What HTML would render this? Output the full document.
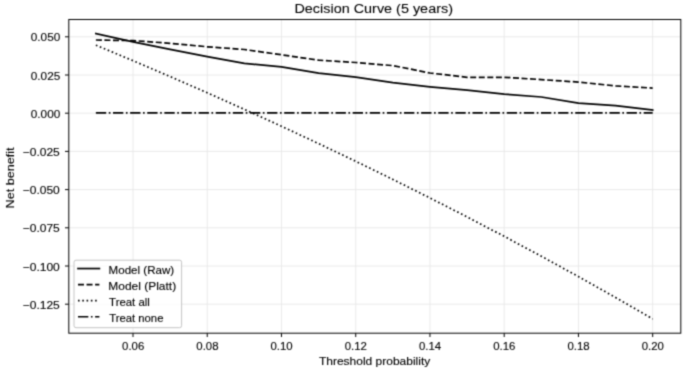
<!DOCTYPE html>
<html><head><meta charset="utf-8"><style>
html,body{margin:0;padding:0;background:#fff;overflow:hidden;}
svg{display:block;}
text{font-family:"Liberation Sans",sans-serif;fill:#000;stroke:#000;stroke-width:0.12px;}
</style></head><body>
<svg width="685" height="370" viewBox="0 0 685 370">
<defs><filter id="bl" x="0" y="0" width="685" height="370" filterUnits="userSpaceOnUse" color-interpolation-filters="sRGB"><feConvolveMatrix order="3" kernelMatrix="0.0324 0.1152 0.0324 0.1152 0.4096 0.1152 0.0324 0.1152 0.0324" divisor="1" edgeMode="duplicate"/></filter></defs>
<g filter="url(#bl)">
<rect width="685" height="370" fill="#fff"/>
<g stroke="#e7e7e7" stroke-width="0.87" fill="none"><line x1="133.00" y1="19.5" x2="133.00" y2="333.2"/><line x1="207.24" y1="19.5" x2="207.24" y2="333.2"/><line x1="281.48" y1="19.5" x2="281.48" y2="333.2"/><line x1="355.72" y1="19.5" x2="355.72" y2="333.2"/><line x1="429.96" y1="19.5" x2="429.96" y2="333.2"/><line x1="504.20" y1="19.5" x2="504.20" y2="333.2"/><line x1="578.44" y1="19.5" x2="578.44" y2="333.2"/><line x1="652.68" y1="19.5" x2="652.68" y2="333.2"/><line x1="68.8" y1="36.80" x2="680.8" y2="36.80"/><line x1="68.8" y1="75.00" x2="680.8" y2="75.00"/><line x1="68.8" y1="113.20" x2="680.8" y2="113.20"/><line x1="68.8" y1="151.40" x2="680.8" y2="151.40"/><line x1="68.8" y1="189.60" x2="680.8" y2="189.60"/><line x1="68.8" y1="227.80" x2="680.8" y2="227.80"/><line x1="68.8" y1="266.00" x2="680.8" y2="266.00"/><line x1="68.8" y1="304.20" x2="680.8" y2="304.20"/></g>
<g fill="none" stroke="#000" stroke-width="1.7" stroke-linejoin="round">
<polyline points="95.88,33.60 133.00,41.80 170.12,49.40 207.24,56.70 244.36,63.40 281.48,66.90 318.60,73.20 355.72,77.20 392.84,82.70 429.96,86.80 467.08,90.10 504.20,94.20 541.32,97.00 578.44,103.10 615.56,105.70 652.68,110.10" stroke-linecap="square"/>
<polyline points="95.88,40.00 133.00,40.60 170.12,43.30 207.24,46.80 244.36,49.50 281.48,54.80 318.60,60.20 355.72,62.50 392.84,65.60 429.96,73.00 467.08,77.30 504.20,77.30 541.32,79.60 578.44,82.10 615.56,85.90 652.68,88.10" stroke-dasharray="5.976 2.584"/>
<polyline points="95.88,45.16 133.00,60.70 170.12,76.56 207.24,92.77 244.36,109.34 281.48,126.27 318.60,143.59 355.72,161.30 392.84,179.41 429.96,197.95 467.08,216.92 504.20,236.35 541.32,256.24 578.44,276.62 615.56,297.50 652.68,318.91" stroke-dasharray="1.615 2.665"/>
<line x1="95.88" y1="112.85" x2="652.68" y2="112.85" stroke-dasharray="10.336 2.584 1.615 2.584"/>
</g>
<g stroke="#000" stroke-width="1.0" fill="none">
<rect x="68.8" y="19.5" width="612.00" height="313.70"/>
<line x1="133.00" y1="333.2" x2="133.00" y2="337.00"/><line x1="207.24" y1="333.2" x2="207.24" y2="337.00"/><line x1="281.48" y1="333.2" x2="281.48" y2="337.00"/><line x1="355.72" y1="333.2" x2="355.72" y2="337.00"/><line x1="429.96" y1="333.2" x2="429.96" y2="337.00"/><line x1="504.20" y1="333.2" x2="504.20" y2="337.00"/><line x1="578.44" y1="333.2" x2="578.44" y2="337.00"/><line x1="652.68" y1="333.2" x2="652.68" y2="337.00"/><line x1="65.00" y1="36.80" x2="68.8" y2="36.80"/><line x1="65.00" y1="75.00" x2="68.8" y2="75.00"/><line x1="65.00" y1="113.20" x2="68.8" y2="113.20"/><line x1="65.00" y1="151.40" x2="68.8" y2="151.40"/><line x1="65.00" y1="189.60" x2="68.8" y2="189.60"/><line x1="65.00" y1="227.80" x2="68.8" y2="227.80"/><line x1="65.00" y1="266.00" x2="68.8" y2="266.00"/><line x1="65.00" y1="304.20" x2="68.8" y2="304.20"/>
</g>
<g>
<rect x="74.0" y="260.2" width="107.6" height="67.5" rx="2.0" fill="#fff" fill-opacity="0.8" stroke="#c4c4c4" stroke-width="1.0"/>
<g fill="none" stroke="#000" stroke-width="1.7">
<line x1="78.0" y1="268.55" x2="99.4" y2="268.55" stroke-linecap="square"/>
<line x1="78.0" y1="284.55" x2="99.4" y2="284.55" stroke-dasharray="5.976 2.584"/>
<line x1="78.0" y1="300.6" x2="99.4" y2="300.6" stroke-dasharray="1.615 2.665"/>
<line x1="78.0" y1="316.75" x2="99.4" y2="316.75" stroke-dasharray="10.336 2.584 1.615 2.584"/>
</g>
</g>
<text x="373.70" y="13.10" font-size="12.5" text-anchor="middle" style="stroke-width:0.08px" textLength="158.49" lengthAdjust="spacingAndGlyphs">Decision Curve (5 years)</text>
<text x="133.15" y="350.00" font-size="11.2" text-anchor="middle" textLength="22.18" lengthAdjust="spacingAndGlyphs">0.06</text>
<text x="207.39" y="350.00" font-size="11.2" text-anchor="middle" textLength="22.18" lengthAdjust="spacingAndGlyphs">0.08</text>
<text x="281.63" y="350.00" font-size="11.2" text-anchor="middle" textLength="22.18" lengthAdjust="spacingAndGlyphs">0.10</text>
<text x="355.87" y="350.00" font-size="11.2" text-anchor="middle" textLength="22.18" lengthAdjust="spacingAndGlyphs">0.12</text>
<text x="430.11" y="350.00" font-size="11.2" text-anchor="middle" textLength="22.18" lengthAdjust="spacingAndGlyphs">0.14</text>
<text x="504.35" y="350.00" font-size="11.2" text-anchor="middle" textLength="22.18" lengthAdjust="spacingAndGlyphs">0.16</text>
<text x="578.59" y="350.00" font-size="11.2" text-anchor="middle" textLength="22.18" lengthAdjust="spacingAndGlyphs">0.18</text>
<text x="652.83" y="350.00" font-size="11.2" text-anchor="middle" textLength="22.18" lengthAdjust="spacingAndGlyphs">0.20</text>
<text x="60.29" y="41.43" font-size="11.4" text-anchor="end" textLength="29.48" lengthAdjust="spacingAndGlyphs">0.050</text>
<text x="60.29" y="79.63" font-size="11.4" text-anchor="end" textLength="29.48" lengthAdjust="spacingAndGlyphs">0.025</text>
<text x="60.29" y="117.83" font-size="11.4" text-anchor="end" textLength="29.48" lengthAdjust="spacingAndGlyphs">0.000</text>
<text x="59.78" y="156.03" font-size="11.4" text-anchor="end" textLength="37.08" lengthAdjust="spacingAndGlyphs">−0.025</text>
<text x="59.78" y="194.23" font-size="11.4" text-anchor="end" textLength="37.08" lengthAdjust="spacingAndGlyphs">−0.050</text>
<text x="59.78" y="232.43" font-size="11.4" text-anchor="end" textLength="37.08" lengthAdjust="spacingAndGlyphs">−0.075</text>
<text x="59.78" y="270.63" font-size="11.4" text-anchor="end" textLength="37.08" lengthAdjust="spacingAndGlyphs">−0.100</text>
<text x="59.78" y="308.83" font-size="11.4" text-anchor="end" textLength="37.08" lengthAdjust="spacingAndGlyphs">−0.125</text>
<text x="374.56" y="364.80" font-size="11" text-anchor="middle" textLength="111.33" lengthAdjust="spacingAndGlyphs">Threshold probability</text>
<text transform="translate(13.70,177.98) rotate(-90)" font-size="11" text-anchor="middle" textLength="61.02" lengthAdjust="spacingAndGlyphs">Net benefit</text>
<text x="108.57" y="274.00" font-size="10.4" textLength="65.58" lengthAdjust="spacingAndGlyphs">Model (Raw)</text>
<text x="108.35" y="290.00" font-size="10.4" textLength="67.78" lengthAdjust="spacingAndGlyphs">Model (Platt)</text>
<text x="109.14" y="306.00" font-size="10.4" textLength="40.66" lengthAdjust="spacingAndGlyphs">Treat all</text>
<text x="109.15" y="322.00" font-size="10.4" textLength="54.30" lengthAdjust="spacingAndGlyphs">Treat none</text>
</g>
</svg>
</body></html>
